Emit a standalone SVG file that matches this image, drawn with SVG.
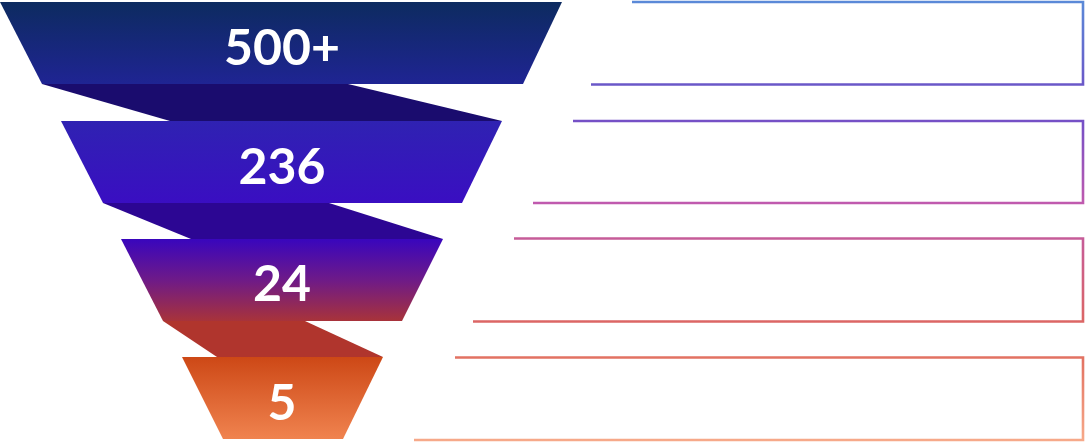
<svg xmlns="http://www.w3.org/2000/svg" width="1085" height="442" viewBox="0 0 1085 442">
<defs>
<linearGradient id="g1" x1="0" y1="0" x2="0" y2="1"><stop offset="0" stop-color="#0d2b60"/><stop offset="1" stop-color="#1f2493"/></linearGradient>
<linearGradient id="g2" x1="0" y1="0" x2="0" y2="1"><stop offset="0" stop-color="#2f22b2"/><stop offset="1" stop-color="#3a0ec2"/></linearGradient>
<linearGradient id="g3" x1="0" y1="0" x2="0" y2="1"><stop offset="0" stop-color="#3906bd"/><stop offset="0.5" stop-color="#6e1a88"/><stop offset="1" stop-color="#a8333a"/></linearGradient>
<linearGradient id="g4" x1="0" y1="0" x2="0" y2="1"><stop offset="0" stop-color="#cd4816"/><stop offset="1" stop-color="#f0834f"/></linearGradient>
<linearGradient id="gs" gradientUnits="userSpaceOnUse" x1="0" y1="0" x2="0" y2="442">
<stop offset="0" stop-color="#5a8ad8"/>
<stop offset="0.19" stop-color="#6a58c8"/>
<stop offset="0.28" stop-color="#7650c6"/>
<stop offset="0.46" stop-color="#c05aae"/>
<stop offset="0.54" stop-color="#c65c98"/>
<stop offset="0.73" stop-color="#dc6664"/>
<stop offset="0.81" stop-color="#e27262"/>
<stop offset="1" stop-color="#f7aa8a"/>
</linearGradient>
</defs>
<style>
.lbl{font-family:Lato,"Liberation Sans",sans-serif;font-weight:700;font-size:50px;fill:#ffffff;text-anchor:middle}
.box{fill:none;stroke:url(#gs);stroke-width:2.6}
</style>
<g id="connectors">
<polygon points="42,84 348,84 502,121 170,121" fill="#1a0c6e"/>
<polygon points="103,203 329,203 443,239 191,239" fill="#2c0693"/>
<polygon points="163,321 305,321 383,357 217,357" fill="#b0352d"/>
</g>
<g id="stage1">
<polygon points="0,2 562,2 523,84 42,84" fill="url(#g1)"/>
<text class="lbl" x="282" y="65">500+</text>
</g>
<g id="stage2">
<polygon points="61,121 502,121 462,203 103,203" fill="url(#g2)"/>
<text class="lbl" x="282" y="184">236</text>
</g>
<g id="stage3">
<polygon points="121,239 443,239 402,321 163,321" fill="url(#g3)"/>
<text class="lbl" x="282" y="301">24</text>
</g>
<g id="stage4">
<polygon points="182,357 383,357 343,439 223,439" fill="url(#g4)"/>
<text class="lbl" x="282" y="420">5</text>
</g>
<g id="box1"><polyline class="box" points="632,2 1083,2 1083,84.5 591,84.5"/></g>
<g id="box2"><polyline class="box" points="573,121 1083,121 1083,203 533,203"/></g>
<g id="box3"><polyline class="box" points="514,238.5 1083,238.5 1083,321.5 473,321.5"/></g>
<g id="box4"><polyline class="box" points="455,357.5 1083,357.5 1083,440 414,440"/></g>
</svg>
